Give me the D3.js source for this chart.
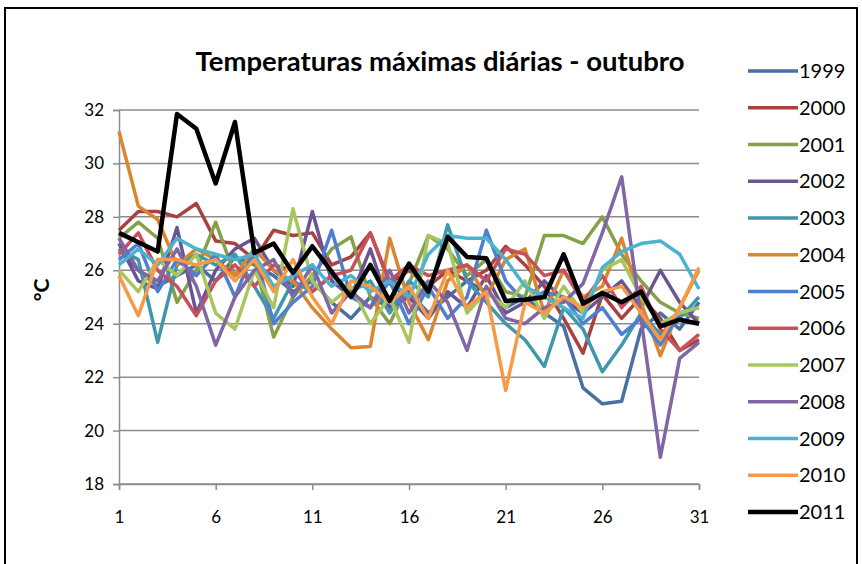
<!DOCTYPE html>
<html><head><meta charset="utf-8">
<script src="https://cdn.jsdelivr.net/npm/d3@7"></script>
<style>
html,body{margin:0;padding:0;background:#fff;}
svg{display:block;}
text{font-family:Lato,"Liberation Sans","DejaVu Sans",sans-serif;}
</style></head>
<body><svg id="c" width="862" height="564"></svg>
<script>
const days = d3.range(1, 32);
const years = ["1999","2000","2001","2002","2003","2004","2005","2006","2007","2008","2009","2010","2011"];
const colors = ["#4a6fa3","#a8423f","#84a14a","#6a5493","#3e97ad","#da8530","#4f7fcf","#c8505a","#a7c75e","#8166a5","#4cb2cf","#f69a48","#000000"];
const yTicks = [18,20,22,24,26,28,30,32];
const xTicks = [1,6,11,16,21,26,31];

const s1999 = [26.8,26.0,25.4,25.8,26.2,25.6,26.5,26.2,25.8,25.2,25.6,24.8,24.2,25.0,24.6,25.2,24.4,25.0,25.6,25.2,24.6,25.0,24.4,23.9,21.6,21.0,21.1,23.8,24.4,23.8,24.8];
const s2000 = [27.5,28.2,28.2,28.0,28.5,27.1,27.0,26.4,27.5,27.3,27.4,26.2,26.5,27.4,25.5,26.0,25.4,26.0,25.6,26.0,26.9,26.2,25.4,24.2,22.9,25.1,24.2,25.0,24.2,23.0,23.4];
const s2001 = [27.2,27.8,27.2,24.8,26.0,27.8,25.8,26.4,23.5,25.0,25.8,26.8,27.25,25.0,24.0,25.5,27.3,26.8,25.8,26.4,25.2,25.0,27.3,27.3,27.0,28.0,26.6,25.6,24.8,24.4,24.2];
const s2002 = [27.0,25.6,25.3,27.6,24.4,26.0,26.8,27.2,26.0,25.4,28.2,25.6,25.0,26.8,24.6,25.0,24.2,25.2,24.6,25.8,24.4,24.8,25.6,24.9,24.4,25.0,25.6,24.6,26.0,24.8,24.0];
const s2003 = [26.8,26.4,23.3,26.2,26.6,26.2,26.6,25.4,24.2,25.6,25.2,25.8,25.2,25.6,24.4,25.6,25.0,27.7,25.6,24.8,24.0,23.4,22.4,24.6,23.8,22.2,23.2,24.4,23.6,24.2,25.0];
const s2004 = [31.2,28.4,27.9,26.2,26.8,26.4,25.8,26.8,26.0,25.6,24.6,23.8,23.1,23.15,27.2,24.8,23.4,25.6,26.2,25.0,26.4,26.8,24.4,26.0,25.0,25.4,27.2,24.8,22.8,24.6,26.0];
const s2005 = [26.4,27.0,25.2,26.4,25.8,26.6,25.0,26.8,24.0,24.8,25.4,27.5,25.0,24.6,25.6,24.0,25.4,24.2,25.0,27.5,25.6,24.8,25.2,25.0,24.0,24.6,23.6,24.2,23.2,24.4,24.6];
const s2006 = [26.6,27.4,26.0,25.4,24.3,25.6,26.2,25.4,26.2,26.0,25.2,25.8,26.0,27.4,25.6,26.2,25.8,26.0,26.2,25.6,26.8,26.6,25.8,26.0,24.8,25.8,24.6,25.4,23.8,23.0,23.6];
const s2007 = [26.0,25.2,26.4,25.8,26.6,24.4,23.8,26.0,24.6,28.3,25.6,24.8,25.4,24.0,25.0,23.3,27.3,27.0,24.4,25.2,24.6,25.6,24.2,25.4,24.4,26.0,26.4,25.0,24.0,24.4,24.6];
const s2008 = [27.2,26.0,25.6,26.8,25.4,23.2,25.0,26.0,26.4,25.0,26.2,24.4,25.2,24.6,26.0,24.4,25.6,24.8,23.0,25.4,24.2,24.0,24.6,24.8,25.5,27.4,29.5,24.2,19.0,22.7,23.3];
const s2009 = [26.2,26.8,26.2,27.2,26.8,26.6,26.4,26.6,25.4,25.8,26.2,25.4,25.8,25.2,25.6,25.0,26.6,27.3,27.2,27.2,26.4,25.4,25.0,24.6,24.2,26.1,26.7,27.0,27.1,26.6,25.3];
const s2010 = [25.8,24.3,26.4,26.4,26.2,26.4,25.6,26.4,25.2,26.4,25.0,24.0,25.6,25.4,24.8,25.4,24.2,26.0,24.6,25.2,21.5,24.8,24.4,25.0,24.6,25.2,25.4,24.4,23.4,24.6,26.1];
const s2011 = [27.4,27.05,26.7,31.85,31.3,29.25,31.55,26.65,27.0,25.9,26.9,25.95,25.0,26.2,24.85,26.25,25.2,27.25,26.5,26.45,24.85,24.9,25.0,26.6,24.75,25.15,24.8,25.2,23.9,24.15,24.0];
const series = [s1999,s2000,s2001,s2002,s2003,s2004,s2005,s2006,s2007,s2008,s2009,s2010,s2011];

const svg = d3.select("#c");
svg.append("rect").attr("x",5).attr("y",8).attr("width",852).attr("height",560)
  .attr("fill","#fff").attr("stroke","#000").attr("stroke-width",2);

const x = d3.scaleLinear().domain([1,31]).range([119,699]);
const y = d3.scaleLinear().domain([18,32]).range([484,110]);

// gridlines
svg.append("g").selectAll("line").data(yTicks).join("line")
  .attr("x1",119).attr("x2",699).attr("y1",d=>y(d)).attr("y2",d=>y(d))
  .attr("stroke","#8c8c8c").attr("stroke-width",1.5);

const yAxis = svg.append("g").attr("transform","translate(119,0)")
  .call(d3.axisLeft(y).tickValues(yTicks).tickSize(6).tickPadding(9));
const xAxis = svg.append("g").attr("transform","translate(0,484)")
  .call(d3.axisBottom(x).tickValues(xTicks).tickSize(6).tickPadding(21));
[yAxis,xAxis].forEach(g=>{
  g.select(".domain").attr("stroke","#8c8c8c").attr("stroke-width",1.5);
  g.selectAll(".tick line").attr("stroke","#8c8c8c").attr("stroke-width",1.5);
  g.selectAll("text").attr("font-size",17).attr("fill","#000").style("font-family","Lato");
});

const line = d3.line().x((d,i)=>x(days[i])).y(d=>y(d));
svg.append("g").selectAll("path").data(series).join("path")
  .attr("d",line).attr("fill","none")
  .attr("stroke",(d,i)=>colors[i])
  .attr("stroke-width",(d,i)=> i===12 ? 4.5 : 3.5)
  .attr("stroke-linejoin","round");

// title
const title = svg.append("text").attr("x",440).attr("y",71).attr("text-anchor","middle")
  .attr("font-weight","bold").attr("font-size",22).text("Temperaturas máximas diárias - outubro");
const tw = title.node().getComputedTextLength();
title.attr("font-size", 22*489/tw);

// y title
svg.append("text").attr("transform","translate(49,290) rotate(-90)").attr("text-anchor","middle")
  .attr("font-weight","bold").attr("font-size",21).text("°C");

// legend
const lg = svg.append("g").selectAll("g").data(years).join("g")
  .attr("transform",(d,i)=>`translate(748,${71+i*36.75})`);
lg.append("line").attr("x1",0).attr("x2",50).attr("stroke",(d,i)=>colors[i]).attr("stroke-width",(d,i)=>i===12?4.5:3.5);
lg.append("text").attr("x",51).attr("y",7).attr("font-size",20).text(d=>d);
</script></body></html>
